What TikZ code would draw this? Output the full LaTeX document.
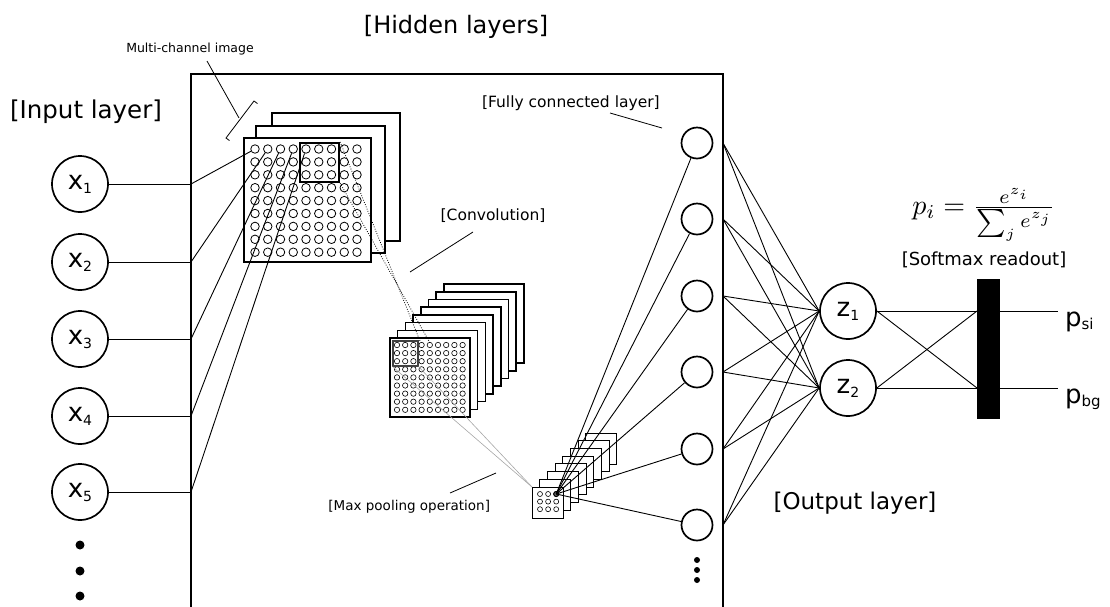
\documentclass[tikz,border=0pt]{standalone}
\usepackage{graphicx}
\usepackage{fontspec}
\setmainfont{DejaVu Sans}
\usetikzlibrary{calc}
\newcommand{\nlab}[2]{\fontsize{26}{26}\selectfont #1\raisebox{-4pt}{\fontsize{14}{14}\selectfont #2}}
\newcommand{\plab}[2]{\fontsize{26}{26}\selectfont #1\raisebox{-3.5pt}{\fontsize{15}{15}\selectfont #2}}
\tikzset{
  boxline/.style={line width=2.4pt},
  conn/.style={line width=0.9pt},
  leader/.style={line width=0.8pt},
  neuron/.style={circle, draw, line width=1.7pt, inner sep=0pt, minimum size=#1},
  gridc/.style={circle, draw, line width=0.8pt, inner sep=0pt, minimum size=#1},
  imgsq/.style={draw, fill=white, line width=2.2pt},
  convsq/.style={draw, fill=white, line width=1.5pt},
  poolsq/.style={draw, fill=white, line width=1pt},
  dotline/.style={line width=0.8pt, dash pattern=on 0.8pt off 1.6pt},
  grayline/.style={line width=0.6pt, gray!70},
  txt/.style={inner sep=0pt, outer sep=0pt},
}
\begin{document}
\begin{tikzpicture}[x=1pt,y=-1pt]
\useasboundingbox (0,0) rectangle (1110,606);

% hidden-layer box (open at bottom)
\draw[boxline] (191,610) -- (191,74) -- (723,74) -- (723,610);

% ---------- labels ----------
\node[txt, anchor=base] (thid) at (456,33) {\fontsize{24}{24}\selectfont [Hidden layers]};
\node[txt, anchor=base] (tin) at (86,118) {\fontsize{24.5}{24.5}\selectfont [Input layer]};
\node[txt, anchor=base] (tout) at (855,509) {\fontsize{23}{23}\selectfont [Output layer]};
\node[txt, anchor=base] (tmc) at (190,52) {\fontsize{12.5}{12.5}\selectfont Multi-channel image};
\node[txt, anchor=base west] (tfc) at (482,107) {\fontsize{15.5}{15.5}\selectfont [Fully connected layer]};
\node[txt, anchor=base] (tconv) at (493,220) {\fontsize{15.5}{15.5}\selectfont [Convolution]};
\node[txt, anchor=base east] (tmp) at (490,510) {\fontsize{13.5}{13.5}\selectfont [Max pooling operation]};
\node[txt, anchor=base] (tsm) at (984,265) {\fontsize{18}{18}\selectfont [Softmax readout]};
\node[txt] (formula) at (984,215) {\scalebox{2.8}{$p_i=\frac{e^{z_i}}{\sum_j e^{z_j}}$}};

% ---------- multi-channel image ----------
\draw[imgsq] (272,113) rectangle (400,241);
\draw[imgsq] (256,126) rectangle (385,253);
\draw[imgsq] (244,138) rectangle (371,262);
\foreach \c in {1,...,9}{
  \foreach \r in {1,...,9}{
    \node[gridc=8.5] (m-\c-\r) at ({255+(\c-1)*12.75},{149+(\r-1)*12.9}) {};
  }
}
\node[draw, line width=2.2pt, inner sep=0pt, minimum width=39pt, minimum height=39pt] (hl) at (319.5,162.5) {};

% bracket + leader for multi-channel image
\coordinate (bra) at (226,138);
\coordinate (brb) at (254,101);
\draw[leader] ($(bra)+(3.5,2.6)$) -- (bra) -- (brb) -- ($(brb)+(3.5,2.6)$);
\coordinate (mcl1) at (207,61);
\coordinate (mcl2) at (239,118);
\draw[leader] (mcl1) -- (mcl2);

% ---------- convolution stack ----------
\foreach \k in {7,...,0}{
  \draw[convsq] ({390+7.7*\k},{338-7.7*\k}) rectangle +(80,79);
}
\foreach \c in {1,...,9}{
  \foreach \r in {1,...,9}{
    \node[gridc=5.4, line width=0.6pt] (c-\c-\r) at ({397+(\c-1)*8.2},{345+(\r-1)*8.1}) {};
  }
}
\node[draw, black!75, line width=1.1pt, inner sep=0pt, minimum width=25pt, minimum height=25pt] (cs) at (405.5,353.5) {};

% ---------- pooling stack ----------
\foreach \k in {7,...,0}{
  \draw[poolsq] ({532+7.7*\k},{487-7.7*\k}) rectangle +(31,31);
}
\coordinate (ptl) at (532,487);
\foreach \c in {1,2,3}{
  \foreach \r in {1,2,3}{
    \node[gridc=5, line width=0.6pt] (p-\c-\r) at ({540+(\c-1)*8.1},{494+(\r-1)*7.6}) {};
  }
}
\node[circle, draw, fill=black!60, line width=1pt, inner sep=0pt, minimum size=5pt] (pf) at (p-3-1) {};

% dotted lines image -> convolution
\coordinate (dA) at (420,341);
\coordinate (dB) at (430,343);
\draw[dotline] (hl.north east) -- (dA);
\draw[dotline] (hl.south east) -- (dB);
% gray lines convolution -> pooling
\draw[grayline] (cs.south west) -- (ptl);
\draw[grayline] (cs.south east) -- (ptl);

% leaders
\coordinate (cl1) at (410,272);
\coordinate (cl2) at (473,232);
\draw[leader] (cl1) -- (cl2);
\coordinate (ml1) at (450,493);
\coordinate (ml2) at (496,473);
\draw[leader] (ml1) -- (ml2);
\coordinate (fl1) at (610,113);
\coordinate (fl2) at (662,128);
\draw[leader] (fl1) -- (fl2);

% ---------- input layer ----------
\foreach \i/\y in {1/184,2/262,3/339,4/416,5/492}{
  \node[neuron=56pt] (x\i) at (80,\y) {\nlab{x}{\i}};
  \coordinate (e\i) at (191,\y);
  \draw[conn] (x\i) -- (e\i);
  \draw[conn] (e\i) -- (m-\i-1);
}
\foreach \y [count=\n] in {545,571,596}{
  \fill (80,\y) circle (4.5pt) coordinate (idot\n);
}

% ---------- fully connected layer ----------
\node[neuron=56pt] (z1) at (848,311) {\nlab{z}{1}};
\node[neuron=56pt] (z2) at (848,388) {\nlab{z}{2}};
\foreach \i/\y in {1/143,2/219,3/296,4/372,5/449,6/525}{
  \node[neuron=31pt] (fc\i) at (697,\y) {};
  \draw[conn] (pf.center) -- (fc\i);
  \coordinate (b\i) at (723,\y);
  \draw[conn] (b\i) -- (z1.west);
  \draw[conn] (b\i) -- (z2.west);
}
\foreach \y [count=\n] in {560,570,580}{
  \fill (697,\y) circle (3pt) coordinate (fdot\n);
}

% ---------- softmax readout ----------
\node[fill=black, inner sep=0pt, minimum width=23pt, minimum height=140pt] (sm) at (988.5,349) {};
\coordinate (s1) at (977,311);
\coordinate (s2) at (977,388);
\coordinate (t1) at (1000,311);
\coordinate (t2) at (1000,388);
\coordinate (o1) at (1058,311);
\coordinate (o2) at (1058,388);
\draw[conn] (z1.east) -- (s1);
\draw[conn] (z1.east) -- (s2);
\draw[conn] (z2.east) -- (s2);
\draw[conn] (z2.east) -- (s1);
\draw[conn] (t1) -- (o1);
\draw[conn] (t2) -- (o2);
\node[txt, anchor=base west] (psi) at (1065,326) {\plab{p}{si}};
\node[txt, anchor=base west] (pbg) at (1065,403) {\plab{p}{bg}};
\end{tikzpicture}
\end{document}
